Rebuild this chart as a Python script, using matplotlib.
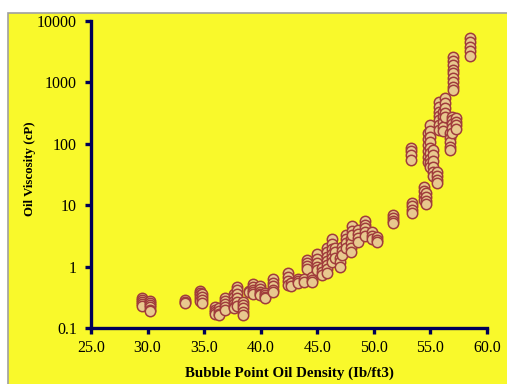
import matplotlib.pyplot as plt
from matplotlib.patches import Rectangle

# bubble point oil density (lb/ft3), one entry per stacked column of points
density = [29.5, 30.2, 33.3, 34.6, 34.8, 36.0, 36.3, 36.8, 37.6, 37.9,
           38.4, 39.0, 39.3, 39.9, 40.4, 41.1, 42.4, 42.7, 43.3, 43.8,
           44.1, 44.5, 45.0, 45.4, 45.9, 46.3, 46.6, 47.0, 47.2, 47.5,
           48.0, 48.1, 48.6, 49.2, 49.8, 50.3, 51.7, 53.3, 53.4, 54.4,
           54.6, 54.8, 55.0, 55.2, 55.6, 55.8, 56.1, 56.3, 56.7, 56.9,
           57.0, 57.3, 58.5]

# oil viscosity (cP) for each column, highest first
viscosity = [
    [0.31, 0.29, 0.27, 0.25, 0.23],
    [0.28, 0.26, 0.24, 0.22, 0.20, 0.19],
    [0.29, 0.27, 0.26],
    [0.40, 0.37, 0.34, 0.31, 0.28],
    [0.36, 0.32, 0.29, 0.26],
    [0.22, 0.20, 0.18, 0.17],
    [0.21, 0.19, 0.17, 0.16],
    [0.31, 0.28, 0.25, 0.22, 0.20],
    [0.36, 0.32, 0.28, 0.25, 0.22, 0.21],
    [0.46, 0.41, 0.36, 0.31, 0.27, 0.23],
    [0.27, 0.24, 0.21, 0.18, 0.16],
    [0.40, 0.38],
    [0.52, 0.47, 0.42, 0.38, 0.36],
    [0.48, 0.43, 0.39, 0.36, 0.34],
    [0.37, 0.34, 0.32, 0.31],
    [0.62, 0.55, 0.48, 0.42, 0.38],
    [0.78, 0.68, 0.58, 0.50],
    [0.55, 0.48],
    [0.64, 0.58, 0.55],
    [0.62, 0.56],
    [1.3, 1.15, 1.02, 0.92],
    [0.68, 0.60, 0.56],
    [1.6, 1.35, 1.15, 0.98, 0.88],
    [0.95, 0.82, 0.74],
    [2.0, 1.7, 1.45, 1.25, 1.05, 0.9, 0.8],
    [2.8, 2.3, 1.9, 1.6, 1.4, 1.2],
    [2.0, 1.7, 1.4],
    [1.4, 1.2, 1.0],
    [2.1, 1.8, 1.55],
    [3.3, 2.8, 2.4, 2.0],
    [2.8, 2.4, 2.0, 1.7],
    [4.5, 3.8, 3.3],
    [4.0, 3.4, 2.9, 2.5],
    [5.6, 4.8, 4.2, 3.6, 3.1],
    [3.6, 3.2, 2.8],
    [3.0, 2.7, 2.5],
    [7.0, 6.3, 5.6, 5.1],
    [85, 75, 65, 55],
    [11, 9.6, 8.4, 7.4],
    [20, 17, 14, 12],
    [16, 13.5, 11.5, 10.5],
    [150, 120, 95, 75, 60, 50],
    [200, 160, 130, 105, 85, 70, 57, 48, 42],
    [80, 65, 52, 42, 35, 30],
    [35, 30, 26, 23],
    [480, 400, 330, 280, 240, 200, 170],
    [330, 270, 230, 190, 160],
    [550, 460, 380, 320, 270],
    [150, 125, 105, 90, 80],
    [270, 240, 210, 180, 150],
    [2600, 2200, 1900, 1600, 1400, 1200, 1000, 850, 750],
    [260, 230, 200, 175],
    [5300, 4500, 3800, 3200, 2700],
]

xticks = [25, 30, 35, 40, 45, 50, 55, 60]
yticks = [0.1, 1, 10, 100, 1000, 10000]
ylabels = ['0.1', '1', '10', '100', '1000', '10000']

xs, ys = [], []
for d, vals in zip(density, viscosity):
    for v in vals:
        xs.append(d)
        ys.append(v)

plt.rcParams['font.family'] = 'Liberation Serif'
navy = '#000058'

fig = plt.figure(figsize=(5.07, 3.84), dpi=100)
fig.patch.set_facecolor('white')
fig.patches.append(Rectangle((8 / 507, -0.05), 1, 1.05 - 13 / 384, transform=fig.transFigure,
                             facecolor='#f9f92b', edgecolor='#a0a0a0', linewidth=1.2, zorder=-10))

ax = fig.add_axes([91 / 507, 56 / 384, 396 / 507, 307 / 384])
ax.set_facecolor('none')
ax.scatter(xs, ys, s=56, facecolor='#e8c98e', edgecolor='#a03c3c', linewidths=1.1, zorder=3,
           clip_on=False)

ax.set_yscale('log')
ax.set_xlim(25, 60)
ax.set_ylim(0.1, 10000)
ax.set_xticks(xticks)
ax.set_xticklabels([f'{t:.1f}' for t in xticks])
ax.set_yticks(yticks)
ax.set_yticklabels(ylabels)
ax.minorticks_off()

for s in ['top', 'right']:
    ax.spines[s].set_visible(False)
for s in ['left', 'bottom']:
    ax.spines[s].set_color(navy)
    ax.spines[s].set_linewidth(2.4)
ax.tick_params(axis='both', colors=navy, width=2.4, length=4, direction='out',
               labelsize=11.5, labelcolor='black')
ax.tick_params(axis='y', pad=6)
ax.tick_params(axis='x', pad=5)

ax.set_xlabel('Bubble Point Oil Density (Ib/ft3)', fontsize=10.8, fontweight='bold', labelpad=7)
ax.set_ylabel('Oil Viscosity (cP)', fontsize=9.3, fontweight='bold', va='center')
ax.yaxis.set_label_coords(-0.154, 0.518)

fig.savefig('out.png', dpi=100)
